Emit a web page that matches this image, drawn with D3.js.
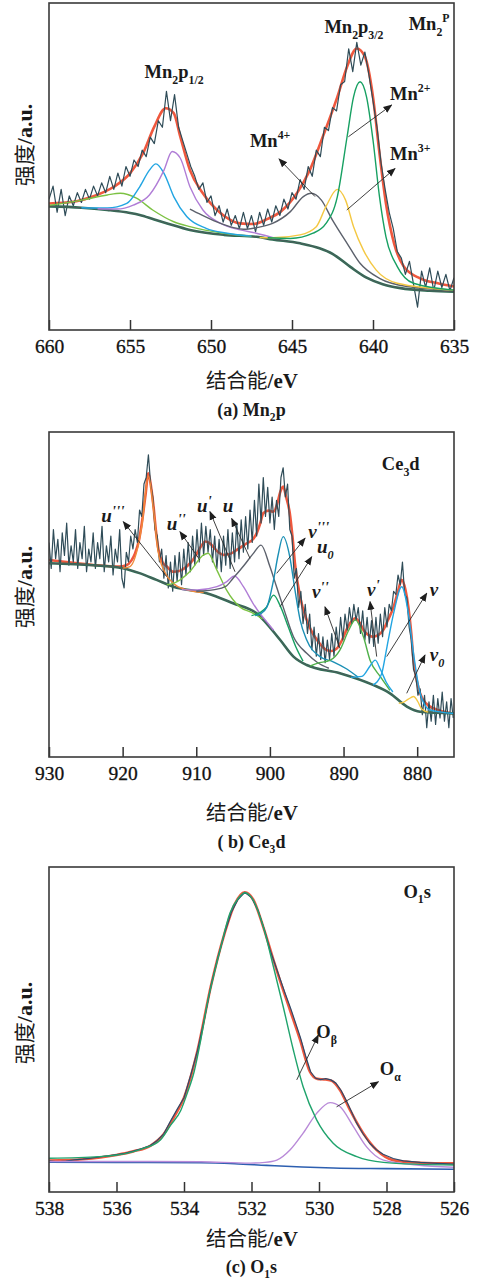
<!DOCTYPE html>
<html>
<head>
<meta charset="utf-8">
<script src="https://cdn.jsdelivr.net/npm/d3@7"></script>
<style>
  body { margin: 0; background: #fff; }
  svg { display: block; }
</style>
</head>
<body>
<svg id="chart" width="485" height="1281"></svg>
<script>
// XPS spectra (a) Mn2p, (b) Ce3d, (c) O1s
// intensity is in arbitrary units, 0 = bottom of frame, 100 = top

// ---------- (a) Mn2p ----------
const mnTicks = [660, 655, 650, 645, 640, 635];

const mnRaw = [
  [660,40],[659.75,44],[659.5,36],[659.25,43],[659,35],[658.75,41],[658.5,38],[658.25,42],[658,39],
  [657.75,43],[657.5,40],[657.25,44],[657,41],[656.75,45],[656.5,42],[656.25,47],[656,43],[655.75,48],
  [655.5,44],[655.25,50],[655,47],[654.75,52],[654.5,50],[654.25,55],[654,53],[653.75,59],[653.5,57],
  [653.25,64],[653,62],[652.75,73],[652.5,64],[652.25,72],[652,62],[651.75,58],[651.5,54],[651.25,50],
  [651,47],[650.75,43],[650.5,45],[650.25,39],[650,41],[649.75,35],[649.5,38],[649.25,33],[649,37],
  [648.75,32],[648.5,35],[648.25,31],[648,36],[647.75,31],[647.5,35],[647.25,30],[647,36],[646.75,32],
  [646.5,37],[646.25,33],[646,38],[645.75,35],[645.5,40],[645.25,37],[645,42],[644.75,40],[644.5,46],
  [644.25,43],[644,50],[643.75,47],[643.5,55],[643.25,53],[643,62],[642.75,61],[642.5,68],[642.25,67],
  [642,75],[641.75,76],[641.5,86],[641.25,79],[641,88],[640.75,81],[640.5,85],[640.25,78],[640,70],
  [639.75,62],[639.5,51],[639.25,43],[639,36],[638.75,31],[638.5,24],[638.25,22],[638,17],[637.75,21],
  [637.5,14],[637.25,7],[637,18],[636.75,13],[636.5,19],[636.25,12],[636,18],[635.75,13],[635.5,17],
  [635.25,12],[635,16]
];

const mnEnvelope = [
  [660,38.7],[658.5,39.2],[657.3,40.8],[656,43.8],[655,47.9],[654.2,54],[653.5,62.2],[652.8,67.8],
  [652.3,66.3],[651.9,59.2],[651.3,48.9],[650.5,41.8],[649.4,35.7],[648.2,32.6],[647.4,32.4],
  [646.5,34],[645.7,36.2],[644.7,41.8],[643.9,48.9],[643.1,59.1],[642.2,71.3],[641.6,80.5],[641,86.1],
  [640.5,83.6],[640,71.3],[639.6,54],[639.2,38.7],[638.7,26.5],[638.1,19.4],[637.1,15.8],[636,14.3],[635,13.3]
];

const mnBackground = [
  [660,37.8],[658,37.4],[656.4,36.7],[655,35.8],[654.4,35.2],[653.5,33.8],[652.7,32.6],[651.3,30.6],
  [649.2,29.1],[647.2,28.5],[646.2,27.7],[644.5,26.5],[643.3,25],[642.5,23.3],[641.4,19.3],[640.4,16],
  [639.4,14],[638.3,12.8],[636.5,12],[635,11.7]
];

const mnSatellite = [
  [660,38.1],[657.9,39.8],[656.4,41.3],[655.6,41.8],[654.6,40.3],[653.6,36.7],[652.3,33.1],[651.3,31.6],
  [649.2,29.6],[647.5,28.7]
];
const mnP12Low = [
  [658,37.4],[656.4,37.3],[655.2,38.7],[654.4,43.8],[653.8,48.9],[653.4,50.8],[652.9,47.9],[652.3,40.8],
  [651.5,34.7],[650.3,31.1],[649,29.6],[647.5,28.7]
];
const mnP12High = [
  [657,37.1],[655.8,37],[654.8,38.2],[653.8,41.3],[652.9,48.9],[652.4,54.6],[651.9,52.6],[651.3,43.8],
  [650.5,36.7],[649.4,32.6],[648.2,30.6],[647.2,29.6],[646,28]
];
const mn4 = [
  [651.3,37],[650.7,35.5],[649.6,33],[648.6,31.3],[648,30.8],[647.2,31.3],[646.2,32.6],[645.1,36.2],
  [644.3,40.8],[643.8,41.8],[643.2,39.8],[642.5,33.6],[641.6,26.5],[640.8,20.4],[639.6,15.8],
  [637.9,13.3],[635,12.2]
];
const mn3 = [
  [647,28.3],[646.2,28.2],[644.5,29.1],[643.5,31.6],[642.9,37.8],[642.2,43],[641.7,39.8],[641.2,31.6],
  [640.6,24.5],[639.8,18.3],[638.5,14.3],[635,12.2]
];
const mn2 = [
  [646.5,28.2],[645.1,28],[643.7,29.6],[642.9,32.6],[642.2,40.8],[641.6,59.1],[641.2,71.3],[640.8,75.9],
  [640.4,71.3],[640,58.1],[639.6,40.8],[639.2,28.5],[638.5,19.4],[637.5,14.3],[635,12.2]
];

// ---------- (b) Ce3d ----------
const ceTicks = [930, 920, 910, 900, 890, 880];

const ceRaw = [
  [930,66],[929.7,58],[929.4,70],[929.1,61],[928.8,67],[928.5,57],[928.2,69],[927.9,62],[927.6,72],
  [927.3,59],[927,65],[926.7,60],[926.4,70],[926.1,58],[925.8,66],[925.5,61],[925.2,71],[924.9,57],
  [924.6,64],[924.3,60],[924,69],[923.7,58],[923.4,66],[923.1,61],[922.8,71],[922.5,57],[922.2,65],
  [921.9,60],[921.6,68],[921.3,56],[921,64],[920.7,60],[920.4,70],[920.1,55],[919.8,52],[919.5,63],
  [919.2,60],[918.9,68],[918.6,64],[918.3,70],[918,66],[917.7,76],[917.4,74],[917.1,84],[916.8,86],
  [916.5,93],[916.2,84],[915.9,80],[915.6,70],[915.3,68],[915,60],[914.7,64],[914.4,55],[914.1,62],
  [913.8,52],[913.5,60],[913.2,51],[912.9,62],[912.6,54],[912.3,63],[912,53],[911.7,64],[911.4,56],
  [911.1,66],[910.8,57],[910.5,68],[910.2,59],[909.9,70],[909.6,60],[909.3,72],[909,62],[908.7,71],
  [908.4,63],[908.1,70],[907.8,60],[907.5,68],[907.2,58],[906.9,67],[906.6,57],[906.3,68],[906,59],
  [905.7,70],[905.4,58],[905.1,69],[904.8,60],[904.5,72],[904.2,61],[903.9,73],[903.6,63],[903.3,74],
  [903,64],[902.7,76],[902.4,66],[902.1,79],[901.8,68],[901.5,84],[901.2,72],[900.9,86],[900.6,74],
  [900.3,83],[900,72],[899.7,80],[899.4,70],[899.1,79],[898.8,74],[898.5,86],[898.2,89],[897.9,80],
  [897.6,84],[897.3,70],[897,68],[896.7,55],[896.4,58],[896.1,46],[895.8,51],[895.5,41],[895.2,47],
  [894.9,38],[894.6,44],[894.3,33],[894,40],[893.7,31],[893.4,38],[893.1,30],[892.8,37],[892.5,29],
  [892.2,36],[891.9,30],[891.6,38],[891.3,31],[891,40],[890.7,34],[890.4,43],[890.1,36],[889.8,44],
  [889.5,39],[889.2,46],[888.9,41],[888.6,47],[888.3,42],[888,46],[887.7,38],[887.4,45],[887.1,36],
  [886.8,43],[886.5,35],[886.2,42],[885.9,34],[885.6,43],[885.3,35],[885,44],[884.7,37],[884.4,46],
  [884.1,40],[883.8,47],[883.5,45],[883.2,51],[882.9,50],[882.6,56],[882.3,53],[882,60],[881.7,50],
  [881.4,49],[881.1,40],[880.8,36],[880.5,27],[880.2,25],[879.9,19],[879.6,21],[879.3,13],[879,19],
  [878.7,9],[878.4,17],[878.1,11],[877.8,19],[877.5,10],[877.2,18],[876.9,12],[876.6,20],[876.3,11],
  [876,17],[875.7,9],[875.4,18],[875.1,12]
];

const ceEnvelope = [
  [930,60.6],[927,59.8],[924,59.1],[920.5,58.6],[919.5,59],[918.8,60.5],[918.3,62.7],[917.8,66.5],
  [917.4,71.9],[916.9,80.5],[916.5,87.3],[916.1,82.5],[915.8,77],[915.5,70],[915.2,64.7],[914.6,60],
  [914,58.6],[913.1,57],[912.2,57.3],[911.3,58.6],[910.5,60.5],[909.9,62.7],[909.2,65.3],[908.8,66.3],
  [908.2,65.8],[907.7,64.7],[907,63],[906.3,62.2],[905.4,62.5],[904.5,63.7],[903.2,65.7],[902.3,67],
  [901.8,68.8],[901.3,72],[900.9,75],[900.2,75.8],[899.5,75.5],[899,78],[898.6,81.5],[898.2,83.2],
  [897.8,80],[897.3,75],[896.9,67],[896.6,59.6],[895.9,49.3],[895,42.2],[894.3,38.5],[893.6,36],
  [892.3,32.9],[891.6,32.6],[890.9,33.4],[890.2,36],[889.6,39.1],[889,41.5],[888.4,42.7],[887.8,41.3],
  [887.3,39.1],[886.6,37.5],[886,37],[885.3,37.5],[884.6,39.1],[884,42],[883.2,46.2],[882.6,51],
  [882.1,54.5],[881.6,51.5],[881.2,46.2],[880.8,38],[880.5,29.8],[880,23],[879.6,19.6],[878.8,16.5],
  [877.8,15],[876.5,14],[875,13.4]
];

const ceBackground = [
  [930,59.6],[924,59],[920,58.1],[917.6,56.5],[915.4,54.5],[913.1,52.4],[908.6,50.4],[905,47.3],
  [901.8,44.2],[898.6,36],[896.8,30.9],[895,28.3],[890.5,25.8],[886,22.2],[883.7,19.6],[881.4,15.5],
  [879.6,13.9],[875,13.4]
];

const ceU3 = [
  [920,58.1],[919,58.6],[918.3,61.5],[917.4,71],[916.5,86.5],[915.8,76],[915.2,63.5],[914.3,57],
  [913.1,53.4],[911.5,51.6],[909,50.6]
];
const ceU2 = [
  [914,53],[913.1,53.4],[910.9,57],[909,62.2],[908.4,62.7],[907.2,57.5],[905.9,51.4],[904.1,46.2],
  [902.5,44.5],[901,42.5]
];
const ceU1 = [
  [912,51.5],[909.9,51.4],[907.2,52.4],[905.9,53.9],[904.8,55.7],[903.6,52.4],[902.3,47.3],[901.3,44],
  [900.4,41.5],[899.5,39]
];
const ceU = [
  [910,51],[907.5,51.5],[906,52.5],[905,55],[903.5,59],[902.3,62.5],[901.2,65.2],[900,58.6],[899.1,52.4],
  [898.2,46.2],[896.8,37],[895,31.9],[893.5,29],[892,27.3]
];
const ceU0 = [
  [902.5,43.5],[901.3,44.5],[900.5,46],[899.5,49.8],[898.6,46.5],[897.5,40],[896.5,34],[895.5,29.5]
];
const ceV3 = [
  [902,43.5],[901.3,44],[900.4,46.2],[899.5,54.5],[898.9,62],[898.2,67.8],[897.3,61.6],[896.6,51.4],
  [895.9,42.2],[895,36],[893.2,30.9],[891.4,29.3],[889.5,27],[888,24.5]
];
const ceV2 = [
  [894.5,28],[893.6,28.8],[891.8,29.8],[890.5,32.9],[889.3,39],[888.4,42.2],[887.3,37],[886.4,29.8],
  [885,24.7],[883.7,20.5]
];
const ceV1 = [
  [889,24.5],[887.5,24.8],[886.4,28],[885.7,29.8],[885,27],[884.2,23],[883.3,20]
];
const ceV = [
  [886,22.2],[885.5,23],[884.8,25.8],[884.1,33.9],[883.2,44.2],[882.1,52.4],[881.2,44.2],[880.5,31.9],
  [879.6,19.6],[878.3,14.5],[875,13.4]
];
const ceV0 = [
  [882.5,16.5],[881.9,16.8],[881.2,17.8],[880.5,18.6],[879.9,17],[879.4,14.8],[878.5,13.8]
];

// ---------- (c) O1s ----------
const oTicks = [538, 536, 534, 532, 530, 528, 526];

const oRaw = [
  [538,9.6],[537.75,9.3],[537.5,9.5],[537.25,9.9],[537,10.1],[536.75,10.4],[536.5,10.8],[536.25,11.1],
  [536,11.5],[535.75,11.9],[535.5,12.6],[535.25,13.4],[535,14.3],[534.8,15.8],[534.6,17.9],[534.4,21.8],
  [534.2,25.5],[534,29],[533.8,36],[533.6,43.5],[533.4,53],[533.2,63.5],[533,72],[532.8,79.5],[532.6,86],
  [532.4,90],[532.2,92.2],[532,90.6],[531.8,86.5],[531.6,80],[531.45,74.5],[531.3,70],[531.15,65.5],
  [531,61],[530.85,56.8],[530.7,52.2],[530.55,47.5],[530.4,42],[530.25,37],[530.1,35],[529.95,34.6],
  [529.8,34.9],[529.65,34.5],[529.5,33.5],[529.35,31.3],[529.2,28.3],[529.05,25],[528.9,21.5],
  [528.7,18],[528.5,15],[528.3,13],[528.1,11.6],[527.8,10.3],[527.5,9.6],[527,9.1],[526.5,8.8],[526,8.6]
];
const oEnvelope = [
  [538,9.7],[537,10.1],[536,11.4],[535.5,12.5],[535,14.2],[534.6,17.8],[534.3,23],[534,29],[533.6,43.5],
  [533.2,63.5],[532.8,79.5],[532.5,88.5],[532.2,92.2],[531.95,90],[531.65,81.5],[531.35,71.4],
  [531.16,65.2],[530.86,56],[530.56,46.8],[530.27,37],[530.05,34.8],[529.8,34.6],[529.62,34.2],
  [529.38,31.4],[529.08,25.2],[528.69,18.1],[528.29,12.9],[527.8,9.8],[527,9],[526,8.8]
];
const oBeta = [
  [538,10.4],[536.5,10.9],[535.7,11.9],[535.2,13.4],[534.7,16],[534.4,20.5],[534.1,25],[533.9,30.5],
  [533.7,37],[533.5,47],[533.3,58.5],[533.1,67.5],[532.93,74.5],[532.64,85.8],[532.39,90.4],[532.19,92.1],
  [531.95,89.8],[531.65,81.6],[531.35,69.3],[531.06,57],[530.76,43.7],[530.47,32.4],[530.07,22.2],
  [529.58,15],[528.88,10.9],[528.09,9.1],[527,8.5],[526,8.3]
];
const oAlpha = [
  [538,9.4],[535,9.4],[533.5,9.3],[532.04,8.9],[531.6,9.1],[531.25,9.8],[530.86,12.9],[530.47,18.1],
  [530.07,24.2],[529.67,27.5],[529.38,26.3],[528.98,20.1],[528.59,13.9],[528.09,9.8],[527.1,8.3],[526,7.6]
];
const oBackground = [
  [538,9.2],[536,9.1],[533.5,9],[532.5,8.7],[531.55,8.2],[530.5,7.7],[529.58,7.4],[528,7.2],[526,7]
];

// ---------- layout ----------
const svg = d3.select('#chart');
const left = 49, right = 454;
const serif = '"Liberation Serif", "Times New Roman", serif';
const cjk = '"Noto Sans CJK SC", sans-serif';

const colors = {
  raw: '#2f4c58', red: '#ef583e', bg: '#2f6e55', bgLine: '#56585e',
  green: '#17a062', yellow: '#f4c843', gray: '#5c616c', blue: '#22a5e2',
  purple: '#b07dd6', lime: '#7cc243', teal: '#1a8fb5', orange: '#f08a3a'
};

const panels = [
  {
    top: 3, bottom: 330, xDomain: [660, 635], ticks: mnTicks,
    yLabelY: 145, xLabelY: 388, captionY: 416,
    caption: [['(a) Mn', ''], ['2', 'sub'], ['p', '']],
    raw: mnRaw, envelope: mnEnvelope, background: mnBackground,
    components: [
      [mnSatellite, colors.lime], [mnP12Low, colors.blue], [mnP12High, colors.purple],
      [mn4, colors.gray], [mn3, colors.yellow], [mn2, colors.green]
    ],
    italic: false, size: 18.5,
    labels: [
      [654.1, 77, [['Mn', ''], ['2', 'sub'], ['p', ''], ['1/2', 'sub']]],
      [643.0, 90.8, [['Mn', ''], ['2', 'sub'], ['p', ''], ['3/2', 'sub']]],
      [637.8, 91.7, [['Mn', ''], ['2', 'sub'], ['P', 'sup']]],
      [638.95, 70.3, [['Mn', ''], ['2+', 'sup']]],
      [638.95, 52, [['Mn', ''], ['3+', 'sup']]],
      [647.6, 56, [['Mn', ''], ['4+', 'sup']]]
    ],
    arrows: [
      [641.52, 59.1, 638.85, 68.8],
      [641.62, 36.7, 638.64, 49.4],
      [643.58, 40.8, 645.8, 52.3]
    ]
  },
  {
    top: 432, bottom: 757, xDomain: [930, 875], ticks: ceTicks,
    yLabelY: 587, xLabelY: 820, captionY: 848,
    caption: [['( b) Ce', ''], ['3', 'sub'], ['d', '']],
    raw: ceRaw, envelope: ceEnvelope, background: ceBackground,
    components: [
      [ceU3, colors.orange], [ceU2, colors.lime], [ceU1, colors.purple], [ceU, colors.gray],
      [ceU0, colors.green], [ceV3, colors.teal], [ceV2, '#4fb04a'], [ceV1, colors.blue],
      [ceV, colors.blue], [ceV0, colors.yellow]
    ],
    italic: true, size: 19,
    labels: [
      [922.9, 72.3, [['u', ''], ["'''", 'prime']]],
      [914.0, 69.8, [['u', ''], ["''", 'prime']]],
      [909.9, 75.4, [['u', ''], ["'", 'prime']]],
      [906.4, 75.4, [['u', '']]],
      [894.8, 67.4, [['v', ''], ["'''", 'prime']]],
      [893.6, 62.8, [['u', ''], ['0', 'sub']]],
      [894.3, 48.9, [['v', ''], ["''", 'prime']]],
      [886.8, 49.5, [['v', ''], ["'", 'prime']]],
      [878.3, 49.5, [['v', '']]],
      [878.3, 29.5, [['v', ''], ['0', 'sub']]]
    ],
    upright: [[884.8, 88.3, [['Ce', ''], ['3', 'sub'], ['d', '']]]],
    arrows: [
      [914.02, 55.5, 919.91, 72.4],
      [909.5, 60.6, 912.21, 69.3],
      [904.74, 57.0, 908.14, 75.5],
      [902.7, 61.1, 905.19, 73.4],
      [899.08, 56.5, 895.23, 67.3],
      [898.63, 46.2, 894.32, 61.6],
      [890.48, 33.4, 892.52, 46.2],
      [885.5, 30.9, 886.4, 47.8],
      [884.14, 30.9, 878.7, 50.4],
      [881.42, 19.6, 878.94, 31.4]
    ]
  },
  {
    top: 867, bottom: 1192, xDomain: [538, 526], ticks: oTicks,
    yLabelY: 1023, xLabelY: 1246, captionY: 1273,
    caption: [['(c)  O', ''], ['1', 'sub'], ['s', '']],
    raw: oRaw, envelope: oEnvelope, background: oBackground,
    components: [[oAlpha, '#b98ad8'], [oBeta, '#1fa36c']],
    bgColor: '#2d5fb0', rawColor: '#2d4a6c',
    italic: false, size: 18.5,
    labels: [
      [527.5, 90.5, [['O', ''], ['1', 'sub'], ['s', '']]],
      [530.08, 47.4, [['O', ''], ['\u03b2', 'sub']]],
      [528.2, 36, [['O', ''], ['\u03b1', 'sub']]]
    ],
    arrows: [
      [530.66, 34.5, 530.02, 48.3],
      [529.48, 26.2, 528.24, 33.9]
    ]
  }
];

// arrow head marker
svg.append('defs').append('marker')
    .attr('id', 'arrowhead')
    .attr('viewBox', '0 0 10 10')
    .attr('refX', 9).attr('refY', 5)
    .attr('markerUnits', 'userSpaceOnUse')
    .attr('markerWidth', 9).attr('markerHeight', 9)
    .attr('orient', 'auto')
  .append('path')
    .attr('d', 'M0,1 L10,5 L0,9 Z')
    .attr('fill', '#1e1e1e');

// text with sub / superscripts (primes sit high and a bit bigger)
function richText(g, x, y, parts, size, italic) {
  const t = g.append('text')
      .attr('x', x).attr('y', y)
      .attr('font-family', serif)
      .attr('font-weight', 'bold')
      .attr('font-size', size)
      .attr('fill', '#1a1a1a');
  if (italic) t.attr('font-style', 'italic');
  let shift = 0;
  parts.forEach(([txt, kind]) => {
    const target = kind === 'sub' ? 0.3 : kind === 'sup' ? -0.42 : kind === 'prime' ? -0.3 : 0;
    const fs = kind === 'prime' ? size * 0.8 : kind ? size * 0.64 : size;
    t.append('tspan')
        .attr('dy', (target - shift) * size)
        .attr('font-size', fs)
        .text(txt);
    shift = target;
  });
  return t;
}

panels.forEach((p, i) => {
  const x = d3.scaleLinear().domain(p.xDomain).range([left, right]);
  const y = d3.scaleLinear().domain([0, 100]).range([p.bottom, p.top]);
  const g = svg.append('g');

  g.append('clipPath').attr('id', 'clip' + i)
    .append('rect')
      .attr('x', left).attr('y', p.top)
      .attr('width', right - left).attr('height', p.bottom - p.top);

  const plot = g.append('g').attr('clip-path', `url(#clip${i})`);

  const smooth = d3.line().x(d => x(d[0])).y(d => y(d[1])).curve(d3.curveMonotoneX);
  const jagged = d3.line().x(d => x(d[0])).y(d => y(d[1]));

  // fitted envelope
  plot.append('path').datum(p.envelope)
      .attr('d', smooth).attr('fill', 'none')
      .attr('stroke', colors.red).attr('stroke-width', 2.6).attr('stroke-linejoin', 'round');

  // measured spectrum
  plot.append('path').datum(p.raw)
      .attr('d', jagged).attr('fill', 'none')
      .attr('stroke', p.rawColor || colors.raw).attr('stroke-width', 1.2).attr('stroke-linejoin', 'round');

  // background
  if (p.bgColor) {
    plot.append('path').datum(p.background)
        .attr('d', smooth).attr('fill', 'none')
        .attr('stroke', p.bgColor).attr('stroke-width', 1.6);
  } else {
    plot.append('path').datum(p.background)
        .attr('d', smooth).attr('fill', 'none')
        .attr('stroke', colors.bg).attr('stroke-width', 2.6);
    plot.append('path').datum(p.background)
        .attr('d', smooth).attr('fill', 'none')
        .attr('stroke', colors.bgLine).attr('stroke-width', 1).attr('opacity', 0.8);
  }

  // fitted components
  p.components.forEach(([data, color]) => {
    plot.append('path').datum(data)
        .attr('d', smooth).attr('fill', 'none')
        .attr('stroke', color).attr('stroke-width', 1.4);
  });

  // annotation arrows
  p.arrows.forEach(a => {
    g.append('line')
        .attr('x1', x(a[0])).attr('y1', y(a[1]))
        .attr('x2', x(a[2])).attr('y2', y(a[3]))
        .attr('stroke', '#2a2a2a').attr('stroke-width', 0.9)
        .attr('marker-end', 'url(#arrowhead)');
  });

  // peak labels
  p.labels.forEach(([lx, ly, parts]) => richText(g, x(lx), y(ly), parts, p.size, p.italic));
  (p.upright || []).forEach(([lx, ly, parts]) => richText(g, x(lx), y(ly), parts, 18.5, false));

  // bottom axis with inward ticks
  const axis = g.append('g')
      .attr('transform', `translate(0,${p.bottom})`)
      .call(d3.axisBottom(x).tickValues(p.ticks).tickSizeInner(-10).tickSizeOuter(0)
              .tickPadding(9).tickFormat(d3.format('d')));
  axis.select('.domain').remove();
  axis.selectAll('line').attr('stroke', '#333').attr('stroke-width', 1.5);
  axis.selectAll('text')
      .attr('font-family', serif).attr('font-size', 19.5).attr('fill', '#111')
      .attr('stroke', '#111').attr('stroke-width', 0.3);

  // frame
  g.append('rect')
      .attr('x', left).attr('y', p.top)
      .attr('width', right - left).attr('height', p.bottom - p.top)
      .attr('fill', 'none').attr('stroke', '#3a3a3a').attr('stroke-width', 1.6);

  // y axis title
  const yt = g.append('text')
      .attr('transform', `translate(32,${p.yLabelY}) rotate(-90)`)
      .attr('text-anchor', 'middle').attr('fill', '#1a1a1a');
  yt.append('tspan').attr('font-family', cjk).attr('font-size', 21).text('强度');
  yt.append('tspan').attr('font-family', serif).attr('font-weight', 'bold').attr('font-size', 22).text('/a.u.');

  // x axis title
  const xt = g.append('text')
      .attr('x', (left + right) / 2 + 0.5).attr('y', p.xLabelY)
      .attr('text-anchor', 'middle').attr('fill', '#1a1a1a');
  xt.append('tspan').attr('font-family', cjk).attr('font-size', 20.5).text('结合能');
  xt.append('tspan').attr('font-family', serif).attr('font-weight', 'bold').attr('font-size', 21).text('/eV');

  // caption
  const cap = richText(g, (left + right) / 2, p.captionY, p.caption, 18, false);
  cap.attr('text-anchor', 'middle');
});
</script>
</body>
</html>
